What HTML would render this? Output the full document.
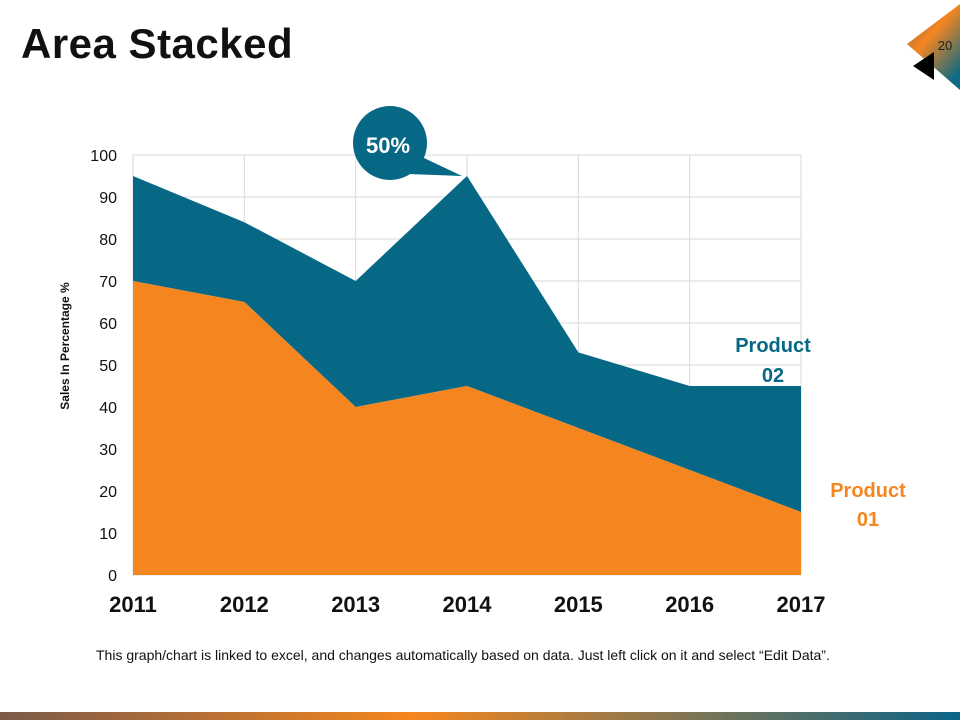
<!DOCTYPE html>
<html><head><meta charset="utf-8"><style>
body{margin:0;width:960px;height:720px;background:#fff;position:relative;overflow:hidden;font-family:"Liberation Sans",Arial,sans-serif}
</style></head><body>
<div style="position:absolute;left:21px;top:20px;font-size:42px;font-weight:bold;color:#111;letter-spacing:0.5px">Area Stacked</div>
<svg width="960" height="720" style="position:absolute;left:0;top:0">
<defs>
<linearGradient id="cg" x1="0" y1="0" x2="0.7" y2="1"><stop offset="0" stop-color="#7a5a48"/><stop offset="0.45" stop-color="#f5861f"/><stop offset="1" stop-color="#0e6a84"/></linearGradient>
<linearGradient id="bg" x1="0" y1="0" x2="1" y2="0"><stop offset="0" stop-color="#7a5a48"/><stop offset="0.43" stop-color="#f5861f"/><stop offset="1" stop-color="#0b6488"/></linearGradient>
</defs>
<polygon points="907,44 960,4 960,90" fill="url(#cg)"/>
<text x="945" y="50" font-size="13" fill="#222" text-anchor="middle" font-family="Liberation Sans">20</text>
<polygon points="913,66 934,52 934,80" fill="#000"/>
<rect x="0" y="712" width="960" height="8" fill="url(#bg)"/>
</svg>
<svg id="chart" width="960" height="720" style="position:absolute;left:0;top:0"></svg>
<div style="position:absolute;left:96px;top:647px;font-size:14px;color:#111;white-space:nowrap">This graph/chart is linked to excel, and changes automatically based on data. Just left click on it and select “Edit Data”.</div>
<script>
const categories=["2011","2012","2013","2014","2015","2016","2017"];
const product01=[70,65,40,45,35,25,15];
const product02=[25,19,30,50,18,20,30];
const yTicks=[0,10,20,30,40,50,60,70,80,90,100];
const NS="http://www.w3.org/2000/svg";
const svg=document.getElementById('chart');
const L=133,R=801,T=155,B=575;
const x=i=>L+(R-L)*i/(categories.length-1);
const y=v=>B-(B-T)*v/100;
function mk(t,a){const e=document.createElementNS(NS,t);for(const k in a)e.setAttribute(k,a[k]);svg.appendChild(e);return e;}
yTicks.forEach(v=>{
 const g=mk('line',{x1:L,x2:R,y1:y(v),y2:y(v),stroke:'#d9d9d9'});
 
 
 const t=mk('text',{x:L-16,y:y(v)+6,'font-size':16,'text-anchor':'end',fill:'#111','font-family':'Liberation Sans'});
 t.textContent=v;
 
 
});
categories.forEach((c,i)=>{
 const g=mk('line',{x1:x(i),x2:x(i),y1:T,y2:B,stroke:'#d9d9d9'});
 
 
 const t=mk('text',{x:x(i),y:612,'font-size':22,'font-weight':'bold','text-anchor':'middle',fill:'#111','font-family':'Liberation Sans'});
 t.textContent=c;
 
 
});
const tot=product01.map((v,i)=>v+product02[i]);
let p2='M'+x(0)+','+y(product01[0]);
tot.forEach((v,i)=>p2+=' L'+x(i)+','+y(v));
for(let i=product01.length-1;i>=0;i--)p2+=' L'+x(i)+','+y(product01[i]);
const a2=mk('path',{d:p2+'Z',fill:'#076885'});


let p1='M'+x(0)+','+y(0);
product01.forEach((v,i)=>p1+=' L'+x(i)+','+y(v));
p1+=' L'+x(product01.length-1)+','+y(0)+'Z';
const a1=mk('path',{d:p1,fill:'#f5861f'});


const yt=mk('text',{x:0,y:0,'font-size':12,'font-weight':'bold','text-anchor':'middle',fill:'#111',transform:'translate(69,346) rotate(-90)','font-family':'Liberation Sans'});
yt.textContent='Sales In Percentage %';


const cc=mk('circle',{cx:390,cy:143,r:37,fill:'#076885'});


const tail=mk('polygon',{points:'408,174 424,158 462,176',fill:'#076885'});


const ct=mk('text',{x:388,y:153,'font-size':22,'font-weight':'bold','text-anchor':'middle',fill:'#fff','font-family':'Liberation Sans'});
ct.textContent='50%';


[['Product',352,773,'#076885'],['02',382,773,'#076885'],['Product',497,868,'#f5861f'],['01',526,868,'#f5861f']].forEach(d=>{
 const t=mk('text',{x:d[2],y:d[1],'font-size':20,'font-weight':'bold','text-anchor':'middle',fill:d[3],'font-family':'Liberation Sans'});
 t.textContent=d[0];
 
 
});
</script>
</body></html>
